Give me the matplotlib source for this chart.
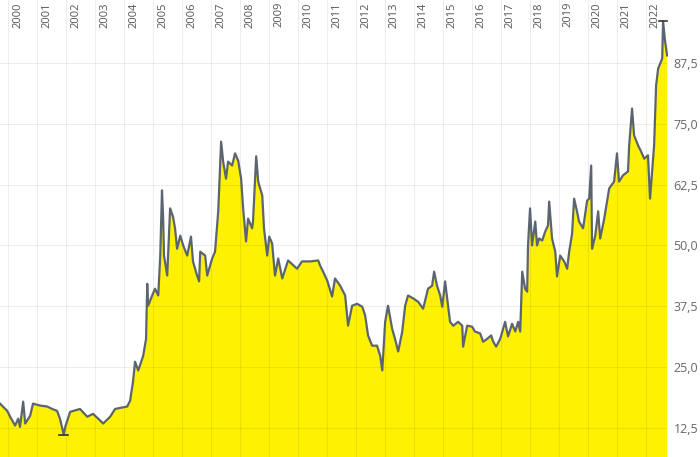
import numpy as np
import matplotlib
matplotlib.use("Agg")
import matplotlib.pyplot as plt
import matplotlib.transforms as mtransforms

# price history (decimal year, price)
years = [
    1999.72, 1999.97, 2000.07, 2000.24, 2000.35, 2000.41, 2000.52, 2000.59, 2000.76, 2000.86,
    2001.10, 2001.35, 2001.52, 2001.69, 2001.79, 2001.92, 2001.97, 2002.14, 2002.48, 2002.73,
    2002.93, 2003.18, 2003.28, 2003.52, 2003.69, 2004.11, 2004.21, 2004.31, 2004.38, 2004.49,
    2004.66, 2004.76, 2004.80, 2004.83, 2004.97, 2005.07, 2005.18, 2005.25, 2005.31, 2005.35,
    2005.38, 2005.49, 2005.59, 2005.69, 2005.76, 2005.83, 2005.94, 2006.04, 2006.18, 2006.31,
    2006.38, 2006.52, 2006.59, 2006.63, 2006.80, 2006.87, 2007.04, 2007.14, 2007.25, 2007.35,
    2007.42, 2007.52, 2007.59, 2007.73, 2007.83, 2007.94, 2008.04, 2008.11, 2008.21, 2008.28,
    2008.42, 2008.45, 2008.56, 2008.63, 2008.77, 2008.83, 2008.94, 2009.01, 2009.11, 2009.21,
    2009.32, 2009.46, 2009.66, 2009.97, 2010.14, 2010.42, 2010.70, 2010.77, 2010.87, 2011.01,
    2011.18, 2011.28, 2011.46, 2011.63, 2011.73, 2011.87, 2012.04, 2012.22, 2012.32, 2012.42,
    2012.56, 2012.73, 2012.84, 2012.91, 2013.01, 2013.11, 2013.25, 2013.35, 2013.46, 2013.60,
    2013.70, 2013.80, 2013.98, 2014.15, 2014.32, 2014.49, 2014.63, 2014.70, 2014.80, 2014.91,
    2014.98, 2015.08, 2015.15, 2015.25, 2015.36, 2015.53, 2015.67, 2015.70, 2015.84, 2016.01,
    2016.11, 2016.29, 2016.39, 2016.53, 2016.67, 2016.74, 2016.84, 2016.98, 2017.15, 2017.25,
    2017.39, 2017.50, 2017.60, 2017.67, 2017.74, 2017.84, 2017.91, 2017.94, 2018.01, 2018.08,
    2018.19, 2018.25, 2018.32, 2018.43, 2018.53, 2018.63, 2018.67, 2018.77, 2018.88, 2018.94,
    2019.05, 2019.19, 2019.29, 2019.36, 2019.46, 2019.53, 2019.63, 2019.70, 2019.84, 2019.98,
    2020.05, 2020.12, 2020.15, 2020.26, 2020.36, 2020.43, 2020.57, 2020.74, 2020.91, 2021.01,
    2021.08, 2021.22, 2021.39, 2021.43, 2021.53, 2021.60, 2021.74, 2021.84, 2021.95, 2022.08,
    2022.15, 2022.22, 2022.29, 2022.36, 2022.43, 2022.57, 2022.60, 2022.67, 2022.74,
]
prices = [
    17.5, 16.0, 14.8, 13.0, 14.4, 12.7, 17.9, 13.4, 15.0, 17.5,
    17.1, 16.9, 16.4, 16.0, 14.4, 11.1, 12.7, 15.8, 16.4, 14.8,
    15.4, 14.0, 13.4, 14.8, 16.4, 16.9, 18.1, 22.0, 26.1, 24.3,
    27.3, 30.8, 42.1, 37.6, 39.7, 41.1, 39.7, 47.9, 61.3, 55.5,
    47.9, 43.8, 57.6, 55.9, 53.5, 49.3, 52.0, 50.0, 47.9, 51.8,
    46.7, 43.8, 42.6, 48.7, 47.9, 43.8, 47.3, 48.7, 57.0, 71.3,
    67.2, 63.7, 67.2, 66.4, 68.9, 67.4, 63.7, 57.6, 50.8, 55.5,
    53.5, 54.9, 68.3, 63.1, 60.2, 53.5, 47.9, 51.8, 50.4, 43.8,
    47.3, 43.2, 46.9, 45.2, 46.7, 46.7, 46.9, 45.8, 44.6, 42.8,
    39.5, 43.2, 41.7, 39.7, 33.5, 37.6, 38.0, 37.4, 35.6, 31.5,
    29.4, 29.4, 27.3, 24.3, 34.3, 37.6, 32.9, 30.8, 28.2, 32.3,
    37.6, 39.7, 39.1, 38.4, 37.0, 41.1, 41.7, 44.6, 41.7, 39.7,
    37.4, 42.6, 39.1, 34.3, 33.5, 34.3, 33.5, 29.2, 33.5, 33.3,
    32.3, 31.9, 30.2, 30.8, 31.5, 30.2, 29.2, 30.8, 34.3, 31.3,
    33.9, 32.3, 34.3, 32.3, 44.6, 41.1, 40.5, 50.0, 57.6, 50.0,
    54.9, 50.0, 51.4, 51.0, 52.8, 54.1, 59.0, 51.4, 48.7, 43.6,
    47.9, 46.7, 45.2, 48.7, 52.4, 59.6, 57.0, 54.9, 53.5, 59.2,
    59.6, 66.4, 49.3, 52.0, 57.0, 51.4, 55.5, 61.7, 63.1, 68.9,
    63.1, 64.4, 65.2, 70.5, 78.1, 72.6, 70.5, 69.3, 67.8, 68.5,
    59.6, 65.2, 70.5, 82.9, 86.3, 88.4, 96.0, 91.9, 89.0,
]
year_ticks = list(range(2000, 2023))
value_ticks = [12.5, 25.0, 37.5, 50.0, 62.5, 75.0, 87.5]

plt.rcParams["font.family"] = ["Open Sans", "DejaVu Sans"]

x = np.asarray(years)
y = np.asarray(prices)

fig = plt.figure(figsize=(7, 4.57), dpi=100)
ax = fig.add_axes([0, 0, 668 / 700, 1])

ax.fill_between(x, 0, y, color="#fff200", lw=0, zorder=1)
ax.plot(x, y, color="#5b6570", lw=1.6, zorder=3)

# grid drawn over the fill, faint
for yr in year_ticks:
    ax.axvline(yr, color=(0, 0, 0, 0.07), lw=0.8, zorder=2)
for v in value_ticks:
    ax.axhline(v, color=(0, 0, 0, 0.07), lw=0.8, zorder=2)

# low / high markers
i_min, i_max = int(np.argmin(y)), int(np.argmax(y))
ax.plot([x[i_min] - 0.15, x[i_min] + 0.15], [y[i_min], y[i_min]], color="#333333", lw=1.2, zorder=4)
ax.plot([x[i_max] - 0.15, x[i_max] + 0.15], [y[i_max], y[i_max]], color="#333333", lw=1.2, zorder=4)

ax.set_xlim(1999.72, 2022.77)
ax.set_ylim(6.53, 100.4)

# year labels, rotated, inside the top of the plot
trans = mtransforms.blended_transform_factory(ax.transData, ax.transAxes)
for yr in year_ticks:
    ax.text(yr + 0.33, 1 - 2 / 457, str(yr), rotation=90, ha="center", va="top",
            fontsize=8, color="#555555", transform=trans, zorder=5)

ax.set_xticks([])
ax.yaxis.tick_right()
ax.set_yticks(value_ticks)
ax.set_yticklabels([("%.1f" % v).replace(".", ",") for v in value_ticks])
ax.tick_params(axis="y", length=0, pad=4, labelsize=9, labelcolor="#666666")
for s in ax.spines.values():
    s.set_visible(False)

fig.savefig("out.png", dpi=100)
